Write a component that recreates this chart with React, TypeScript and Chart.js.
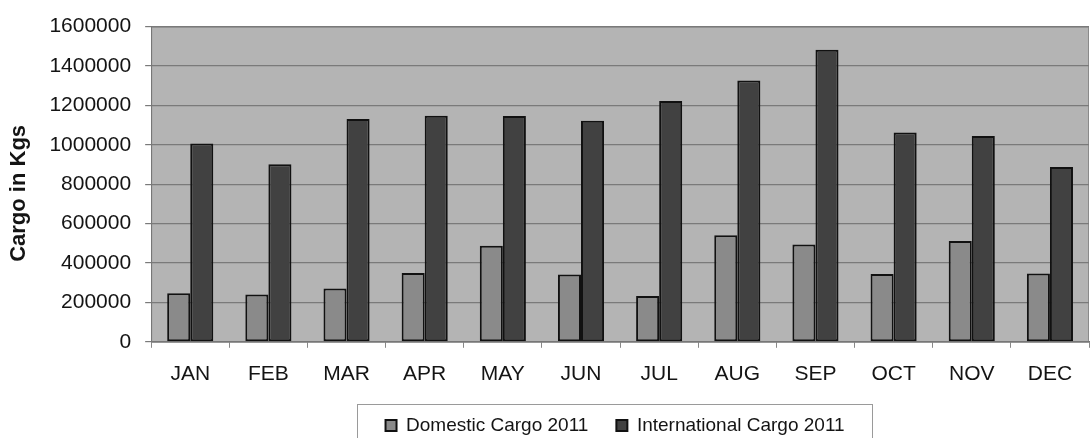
import React, { useEffect, useRef } from "react";
import { Chart, registerables } from "chart.js";

Chart.register(...registerables);

const months = ["JAN", "FEB", "MAR", "APR", "MAY", "JUN", "JUL", "AUG", "SEP", "OCT", "NOV", "DEC"];
const domesticCargo = [247000, 240000, 270000, 349000, 487000, 341000, 232000, 541000, 494000, 344000, 512000, 347000];
const internationalCargo = [1006000, 901000, 1131000, 1148000, 1146000, 1122000, 1222000, 1327000, 1482000, 1063000, 1045000, 887000];
const seriesNames = ["Domestic Cargo 2011", "International Cargo 2011"];
const yTitle = "Cargo in Kgs   ";

const FONT = "'Liberation Sans', Arial, sans-serif";
const TEXT = "#141414";

const plotBg = {
  id: "plotBg",
  beforeDraw(chart: any) {
    const { ctx, chartArea: a } = chart;
    ctx.save();
    ctx.fillStyle = "#b4b4b4";
    ctx.fillRect(a.left, a.top, a.right - a.left, a.bottom - a.top);
    ctx.strokeStyle = "#8a8a8a";
    ctx.lineWidth = 1;
    ctx.strokeRect(a.left + 0.5, a.top + 0.5, a.right - a.left - 1, a.bottom - a.top);
    ctx.restore();
  },
};

const legendShift = {
  id: "legendShift",
  afterLayout(chart: any) {
    const l = chart.legend;
    const a = chart.chartArea;
    if (!l) return;
    const target = (a.left + a.right) / 2 - 5;
    const shift = target - (l.left + l.right) / 2;
    l.left += shift;
    l.right += shift;
    l.top = 388;
  },
  afterDraw(chart: any) {
    const l = chart.legend;
    if (!l || !l.lineWidths) return;
    const pad = l.options.labels.padding;
    const itemsW = l.lineWidths[0] - pad;
    const cx = (l.left + l.right) / 2;
    const left = cx - itemsW / 2 - 29;
    const right = cx + itemsW / 2 + 27;
    const { ctx } = chart;
    ctx.save();
    ctx.strokeStyle = "#9a9a9a";
    ctx.lineWidth = 1;
    ctx.strokeRect(Math.round(left) + 0.5, 404.5, Math.round(right - left), 60);
    ctx.restore();
  },
};

export default function App() {
  const ref = useRef<HTMLCanvasElement | null>(null);

  useEffect(() => {
    document.body.style.margin = "0";
    const canvas = ref.current!;
    const chart = new Chart(canvas, {
      type: "bar",
      data: {
        labels: months,
        datasets: [
          {
            label: seriesNames[0],
            data: domesticCargo,
            backgroundColor: "#8a8a8a",
            borderColor: "#111111",
            borderWidth: 2,
            borderSkipped: false,
            categoryPercentage: 0.59,
            barPercentage: 1,
          },
          {
            label: seriesNames[1],
            data: internationalCargo,
            backgroundColor: "#414141",
            borderColor: "#111111",
            borderWidth: 2,
            borderSkipped: false,
            categoryPercentage: 0.59,
            barPercentage: 1,
          },
        ],
      },
      options: {
        animation: false,
        responsive: false,
        maintainAspectRatio: false,
        layout: { padding: { top: 22, right: 1, left: 6, bottom: 0 } },
        plugins: {
          tooltip: { enabled: false },
          legend: {
            position: "bottom",
            align: "center",
            maxHeight: 37,
            labels: {
              font: { family: FONT, size: 19 },
              color: TEXT,
              boxWidth: 11,
              boxHeight: 11,
              padding: 28,
            },
          },
        },
        scales: {
          x: {
            grid: {
              display: true,
              drawOnChartArea: false,
              drawTicks: true,
              tickLength: 6,
              color: "#888888",
              offset: true,
            },
            border: { display: true, color: "#777777", width: 1 },
            ticks: {
              font: { family: FONT, size: 21 },
              color: TEXT,
              padding: 14,
              maxRotation: 0,
            },
          },
          y: {
            min: 0,
            max: 1600000,
            grid: {
              color: "#7a7a7a",
              lineWidth: 1.2,
              tickLength: 6,
              drawTicks: true,
            },
            border: { display: true, color: "#777777", width: 1 },
            ticks: {
              stepSize: 200000,
              font: { family: FONT, size: 21 },
              color: TEXT,
              padding: 14,
              callback: (v: any) => String(v),
            },
            title: {
              display: true,
              text: yTitle,
              font: { family: FONT, size: 22, weight: "bold" },
              color: TEXT,
              padding: { top: 0, bottom: 3 },
            },
          },
        },
      },
      plugins: [plotBg, legendShift],
    });
    return () => chart.destroy();
  }, []);

  return (
    <div style={{ width: 1090, height: 438 }}>
      <canvas ref={ref} width={1090} height={438} style={{ display: "block" }} />
    </div>
  );
}
